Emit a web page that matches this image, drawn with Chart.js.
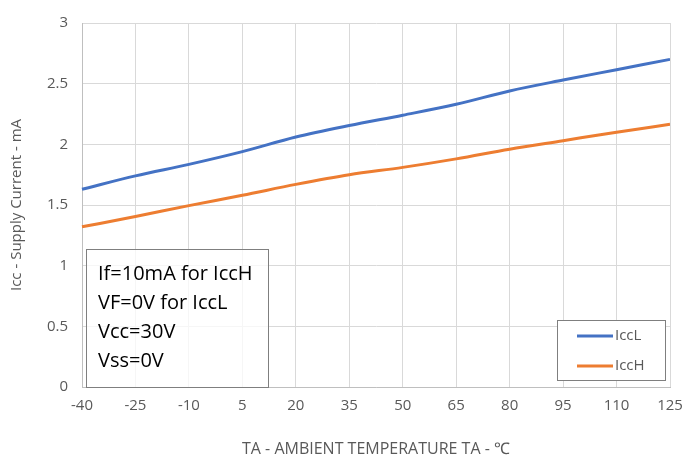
<!DOCTYPE html>
<html><head><meta charset="utf-8">
<script src="https://cdn.jsdelivr.net/npm/chart.js@4/dist/chart.umd.min.js"></script>
<style>html,body{margin:0;padding:0;background:#fff}#w{width:699px;height:463px}</style>
</head><body><div id="w"><canvas id="c"></canvas></div>
<script>
const categories = ['-40','-25','-10','5','20','35','50','65','80','95','110','125'];
const iccL = [1.63,1.74,1.835,1.94,2.06,2.155,2.24,2.33,2.44,2.53,2.615,2.70];
const iccH = [1.32,1.405,1.495,1.58,1.67,1.75,1.81,1.88,1.96,2.03,2.10,2.165];
const yTicks = [0,0.5,1,1.5,2,2.5,3];
const yTickLabels = ['0','0.5','1','1.5','2','2.5','3'];
const noteLines = ['If=10mA for IccH','VF=0V for IccL','Vcc=30V','Vss=0V'];
const FONT = "'Open Sans',sans-serif";
const TXT = '#595959';

const overlay = {
  id:'overlay',
  afterDatasetsDraw(chart){
    const ctx = chart.ctx, a = chart.chartArea;
    ctx.save();
    const bx = a.left+4, by = 249, bw = 182, bh = a.bottom-by;
    ctx.fillStyle='rgba(255,255,255,0.75)';
    ctx.fillRect(bx,by,bw,bh);
    ctx.strokeStyle='#7f7f7f'; ctx.lineWidth=1;
    ctx.strokeRect(bx+0.5,by+0.5,bw,bh);
    ctx.fillStyle='#000'; ctx.font="20px "+FONT; ctx.textBaseline='middle'; ctx.textAlign='left';
    noteLines.forEach((t,i)=>ctx.fillText(t,bx+12,by+25+i*29));
    const lx=557, ly=320, lw=108, lh=60;
    ctx.fillStyle='#fff'; ctx.fillRect(lx,ly,lw,lh);
    ctx.strokeStyle='#7f7f7f'; ctx.lineWidth=1; ctx.strokeRect(lx+0.5,ly+0.5,lw,lh);
    chart.data.datasets.forEach((ds,i)=>{
      const yy = ly+16+i*30;
      ctx.strokeStyle=ds.borderColor; ctx.lineWidth=3;
      ctx.beginPath(); ctx.moveTo(577,yy); ctx.lineTo(613,yy); ctx.stroke();
      ctx.fillStyle=TXT; ctx.font="15px "+FONT;
      ctx.fillText(ds.label,615,yy);
    });
    ctx.restore();
  }
};

new Chart(document.getElementById('c'),{
  type:'line',
  data:{labels:categories,datasets:[
    {label:'IccL',data:iccL,borderColor:'#4472C4',backgroundColor:'#4472C4',borderWidth:3,pointRadius:0,cubicInterpolationMode:'monotone'},
    {label:'IccH',data:iccH,borderColor:'#ED7D31',backgroundColor:'#ED7D31',borderWidth:3,pointRadius:0,cubicInterpolationMode:'monotone'}
  ]},
  options:{
    responsive:true,maintainAspectRatio:false,animation:false,
    layout:{padding:{top:16,right:29,left:0,bottom:0}},
    plugins:{legend:{display:false},tooltip:{enabled:false}},
    scales:{
      x:{type:'category',offset:false,
        grid:{color:'#d9d9d9',offset:false,drawTicks:false},
        border:{color:'#bfbfbf'},
        ticks:{color:TXT,font:{size:15,family:FONT},padding:10,maxRotation:0,autoSkip:false},
        title:{display:true,text:'TA - AMBIENT TEMPERATURE TA - ℃',color:TXT,font:{size:16,family:FONT},padding:{top:10}},
        afterFit(s){s.height=76;}
      },
      y:{min:0,max:3,
        afterBuildTicks(s){s.ticks=yTicks.map(v=>({value:v}));},
        grid:{color:'#d9d9d9',drawTicks:false},
        border:{color:'#bfbfbf'},
        ticks:{color:TXT,font:{size:15,family:FONT},padding:14,callback:(v)=>yTickLabels[yTicks.indexOf(v)]},
        title:{display:true,text:'Icc - Supply Current - mA',color:TXT,font:{size:15,family:FONT},padding:{top:8,bottom:10}},
        afterFit(s){s.width=82;}
      }
    }
  },
  plugins:[overlay,{id:'rb',afterDraw(chart){const c=chart.ctx,a=chart.chartArea;c.save();c.strokeStyle='#d9d9d9';c.lineWidth=1;c.beginPath();c.moveTo(a.right+0.5,a.top);c.lineTo(a.right+0.5,a.bottom);c.stroke();c.restore();}}]
});
</script></body></html>
